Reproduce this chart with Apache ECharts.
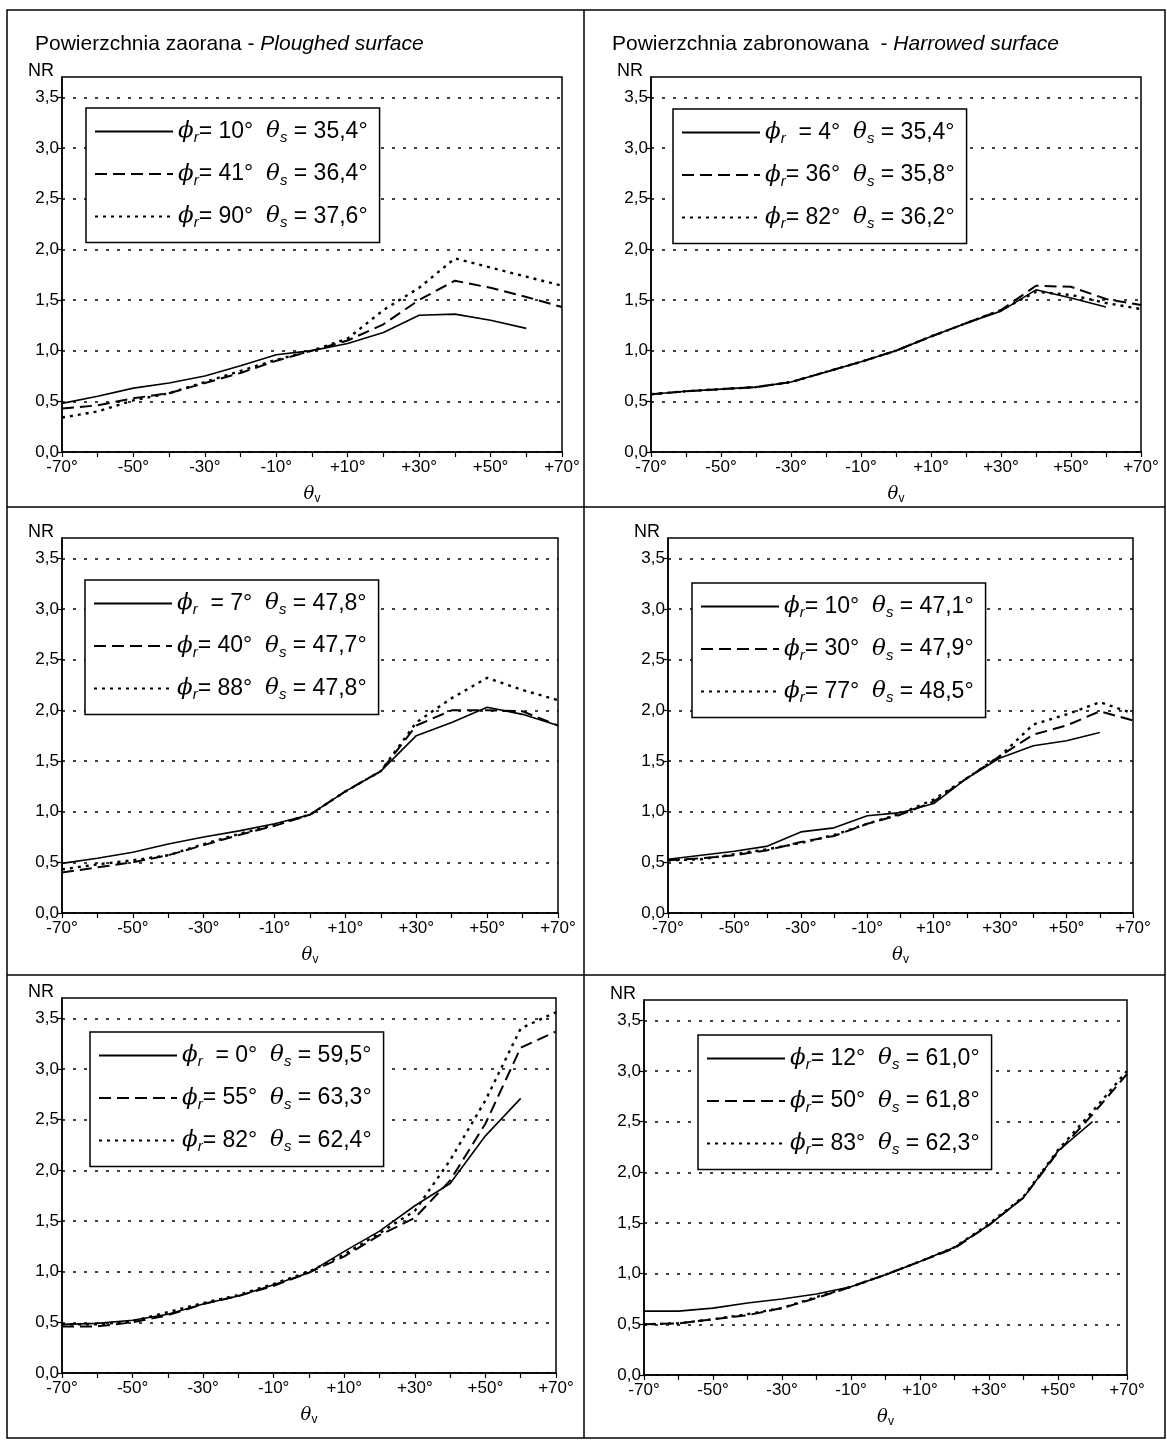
<!DOCTYPE html>
<html><head><meta charset="utf-8">
<script src="https://cdn.jsdelivr.net/npm/echarts@6/dist/echarts.min.js"></script>
<style>html,body{margin:0;padding:0;background:#fff}#c{width:1167px;height:1440px}</style>
</head><body><div id="c"></div>
<script>
// ---------- data ----------
const thetaV = [-70,-60,-50,-40,-30,-20,-10,0,10,20,30,40,50,60,70];
const xTickLabels = ['-70°','','-50°','','-30°','','-10°','','+10°','','+30°','','+50°','','+70°'];
const yTickValues = [0,0.5,1,1.5,2,2.5,3,3.5];
const yTickLabels = ['0,0','0,5','1,0','1,5','2,0','2,5','3,0','3,5'];
const yMin = 0, yMax = 3.7;

const titlePloughed = ['Powierzchnia zaorana - ', 'Ploughed surface'];
const titleHarrowed = ['Powierzchnia zabronowana  - ', 'Harrowed surface'];

// panel 1: ploughed, θs ~ 36°
const p1Phi = ['= 10°', '= 41°', '= 90°'];
const p1ThetaS = ['35,4°', '36,4°', '37,6°'];
const p1Solid  = [0.48,0.55,0.63,0.68,0.75,0.85,0.96,1.00,1.07,1.18,1.35,1.36,1.30,1.22,null];
const p1Dashed = [0.43,0.46,0.53,0.58,0.68,0.78,0.90,1.00,1.10,1.26,1.50,1.69,1.62,1.53,1.43];
const p1Dotted = [0.34,0.40,0.51,0.58,0.69,0.80,0.91,1.00,1.12,1.40,1.62,1.91,1.82,1.73,1.64];

// panel 2: harrowed, θs ~ 36°
const p2Phi = ['  = 4°', '= 36°', '= 82°'];
const p2ThetaS = ['35,4°', '35,8°', '36,2°'];
const p2Solid  = [0.57,0.60,0.62,0.64,0.69,0.79,0.89,1.00,1.14,1.27,1.39,1.60,1.52,1.43,null];
const p2Dashed = [0.57,0.60,0.62,0.64,0.69,0.79,0.89,1.00,1.14,1.27,1.40,1.64,1.63,1.51,1.45];
const p2Dotted = [0.57,0.60,0.62,0.64,0.69,0.79,0.89,1.00,1.14,1.27,1.40,1.58,1.55,1.47,1.41];

// panel 3: ploughed, θs ~ 48°
const p3Phi = ['  = 7°', '= 40°', '= 88°'];
const p3ThetaS = ['47,8°', '47,7°', '47,8°'];
const p3Solid  = [0.49,0.54,0.60,0.68,0.75,0.81,0.88,0.97,1.20,1.40,1.75,1.88,2.03,1.96,1.85];
const p3Dashed = [0.40,0.45,0.50,0.57,0.67,0.77,0.86,0.97,1.20,1.40,1.85,2.00,2.00,1.99,1.85];
const p3Dotted = [0.43,0.48,0.52,0.57,0.68,0.78,0.87,0.97,1.20,1.40,1.88,2.12,2.32,2.20,2.10];

// panel 4: harrowed, θs ~ 48°
const p4Phi = ['= 10°', '= 30°', '= 77°'];
const p4ThetaS = ['47,1°', '47,9°', '48,5°'];
const p4Solid  = [0.53,0.57,0.61,0.66,0.80,0.84,0.96,0.99,1.08,1.33,1.53,1.65,1.70,1.78,null];
const p4Dashed = [0.52,0.54,0.57,0.62,0.70,0.76,0.88,0.97,1.10,1.33,1.55,1.76,1.85,1.99,1.90];
const p4Dotted = [0.52,0.53,0.58,0.63,0.69,0.77,0.88,0.98,1.12,1.33,1.55,1.86,1.96,2.08,1.97];

// panel 5: ploughed, θs ~ 62°
const p5Phi = ['  = 0°', '= 55°', '= 82°'];
const p5ThetaS = ['59,5°', '63,3°', '62,4°'];
const p5Solid  = [0.48,0.49,0.52,0.58,0.68,0.76,0.87,0.99,1.20,1.40,1.65,1.87,2.34,2.71,null];
const p5Dashed = [0.46,0.46,0.50,0.57,0.68,0.76,0.86,0.99,1.15,1.36,1.53,1.90,2.46,3.21,3.37];
const p5Dotted = [0.48,0.48,0.51,0.60,0.69,0.77,0.88,1.00,1.17,1.38,1.60,2.10,2.69,3.40,3.56];

// panel 6: harrowed, θs ~ 62°
const p6Phi = ['= 12°', '= 50°', '= 83°'];
const p6ThetaS = ['61,0°', '61,8°', '62,3°'];
const p6Solid  = [0.63,0.63,0.66,0.71,0.75,0.80,0.87,0.99,1.12,1.26,1.48,1.75,2.21,2.50,null];
const p6Dashed = [0.50,0.51,0.55,0.59,0.66,0.76,0.87,0.99,1.12,1.25,1.48,1.75,2.20,2.57,2.97];
const p6Dotted = [0.50,0.51,0.55,0.60,0.66,0.77,0.87,0.99,1.12,1.26,1.49,1.76,2.22,2.60,3.00];

// ---------- layout ----------
const panels = [
  {phi:p1Phi, ts:p1ThetaS, s:[p1Solid,p1Dashed,p1Dotted], grid:[62,77,500,375],  leg:[86,108]},
  {phi:p2Phi, ts:p2ThetaS, s:[p2Solid,p2Dashed,p2Dotted], grid:[651,77,490,375], leg:[673,109]},
  {phi:p3Phi, ts:p3ThetaS, s:[p3Solid,p3Dashed,p3Dotted], grid:[62,538,496,375], leg:[85,580]},
  {phi:p4Phi, ts:p4ThetaS, s:[p4Solid,p4Dashed,p4Dotted], grid:[668,538,465,375],leg:[692,583]},
  {phi:p5Phi, ts:p5ThetaS, s:[p5Solid,p5Dashed,p5Dotted], grid:[62,998,494,375], leg:[90,1032]},
  {phi:p6Phi, ts:p6ThetaS, s:[p6Solid,p6Dashed,p6Dotted], grid:[644,1000,483,375],leg:[698,1035]}
];
const styles = [
  {type:'solid', width:1.6},
  {type:[12,6], width:2},
  {type:[3,5], width:2.4}
];

const FONT = 'Liberation Sans';
const richLegend = {
  g:{fontFamily:'DejaVu Serif', fontStyle:'italic', fontSize:23, color:'#000'},
  sub:{fontFamily:'Liberation Sans', fontStyle:'italic', fontSize:15, color:'#000', padding:[13,0,0,0]},
  t:{fontFamily:FONT, fontSize:23, color:'#000'}
};

const chart = echarts.init(document.getElementById('c'));
const grids = [], xAxes = [], yAxes = [], series = [], legends = [];
const nameMap = {};

panels.forEach((p, i) => {
  grids.push({left:p.grid[0], top:p.grid[1], width:p.grid[2], height:p.grid[3],
    show:true, borderColor:'#000', borderWidth:1.5, backgroundColor:'transparent'});
  xAxes.push({type:'value', gridIndex:i, min:-70, max:70, interval:10,
    name:'{g|θ}{s|v}', nameLocation:'middle', nameGap:31,
    nameTextStyle:{rich:{g:{fontFamily:'DejaVu Serif', fontStyle:'italic', fontSize:18, color:'#000'},
                         s:{fontFamily:FONT, fontSize:12, color:'#000', padding:[10,0,0,0]}}},
    axisLine:{show:true, onZero:false, lineStyle:{color:'#000', width:1.5}},
    axisTick:{show:true, inside:false, length:5, lineStyle:{color:'#000', width:1.2}},
    axisLabel:{color:'#000', fontFamily:FONT, fontSize:17, margin:7,
      formatter:(v)=>{const k=Math.round((v+70)/10); return xTickLabels[k]||'';}},
    splitLine:{show:false}
  });
  yAxes.push({type:'value', gridIndex:i, min:yMin, max:yMax,
    name:'NR', nameLocation:'end', nameGap:0,
    nameTextStyle:{color:'#000', fontFamily:FONT, fontSize:18, align:'right', padding:[0,8,-3,0]},
    axisLine:{show:true, onZero:false, lineStyle:{color:'#000', width:1.5}},
    axisTick:{show:true, inside:false, length:5, customValues:yTickValues, lineStyle:{color:'#000', width:1.2}},
    axisLabel:{color:'#000', fontFamily:FONT, fontSize:17, margin:3, customValues:yTickValues,
      formatter:(v)=>{const k=yTickValues.indexOf(Math.round(v*10)/10); return k>=0?yTickLabels[k]:'';}},
    splitLine:{show:true, lineStyle:{color:'#000', type:[3,8], width:1.6}}
  });
  const names = [];
  p.s.forEach((arr, j) => {
    const name = 'ϕr' + p.phi[j] + '  θs = ' + p.ts[j] + ' (' + (i+1) + ')';
    nameMap[name] = '{g|ϕ}{sub|r}{t|' + p.phi[j] + '  }{g|θ}{sub|s}{t| = ' + p.ts[j] + '}';
    names.push(name);
    series.push({type:'line', name, xAxisIndex:i, yAxisIndex:i, symbol:'none', showSymbol:false,
      silent:true, animation:false, connectNulls:false,
      itemStyle:{color:'#000', opacity:0},
      lineStyle:{color:'#000', type:styles[j].type, width:styles[j].width},
      data: thetaV.map((x,k)=>[x, arr[k]])});
  });
  legends.push({data:names, left:p.leg[0], top:p.leg[1], orient:'vertical',
    itemWidth:78, itemHeight:20, itemGap:17, padding:[12,12,12,8],
    borderColor:'#000', borderWidth:1.5, backgroundColor:'#fff', selectedMode:false,
    formatter:(n)=>nameMap[n], textStyle:{rich:richLegend},
    lineStyle:{color:'#000'}, itemStyle:{color:'#000', opacity:0, borderWidth:0}});
});

const titleRich = {n:{fontFamily:FONT, fontSize:21, fontWeight:'normal', color:'#000'},
                   i:{fontFamily:FONT, fontSize:21, fontWeight:'normal', fontStyle:'italic', color:'#000'}};
const titles = [
  {text:'{n|' + titlePloughed[0] + '}{i|' + titlePloughed[1] + '}', left:35, top:34, padding:0,
   textStyle:{fontWeight:'normal', rich:titleRich}},
  {text:'{n|' + titleHarrowed[0] + '}{i|' + titleHarrowed[1] + '}', left:612, top:34, padding:0,
   textStyle:{fontWeight:'normal', rich:titleRich}}
];

chart.setOption({
  animation:false,
  backgroundColor:'#fff',
  title:titles,
  grid:grids, xAxis:xAxes, yAxis:yAxes, series, legend:legends,
  graphic:[
    {type:'rect', shape:{x:7, y:10, width:1158, height:1428}, style:{fill:'none', stroke:'#000', lineWidth:1.5}, silent:true},
    {type:'line', shape:{x1:7, y1:507, x2:1165, y2:507}, style:{stroke:'#000', lineWidth:1.5}, silent:true},
    {type:'line', shape:{x1:7, y1:975, x2:1165, y2:975}, style:{stroke:'#000', lineWidth:1.5}, silent:true},
    {type:'line', shape:{x1:584, y1:10, x2:584, y2:1438}, style:{stroke:'#000', lineWidth:1.5}, silent:true}
  ]
});
</script></body></html>
